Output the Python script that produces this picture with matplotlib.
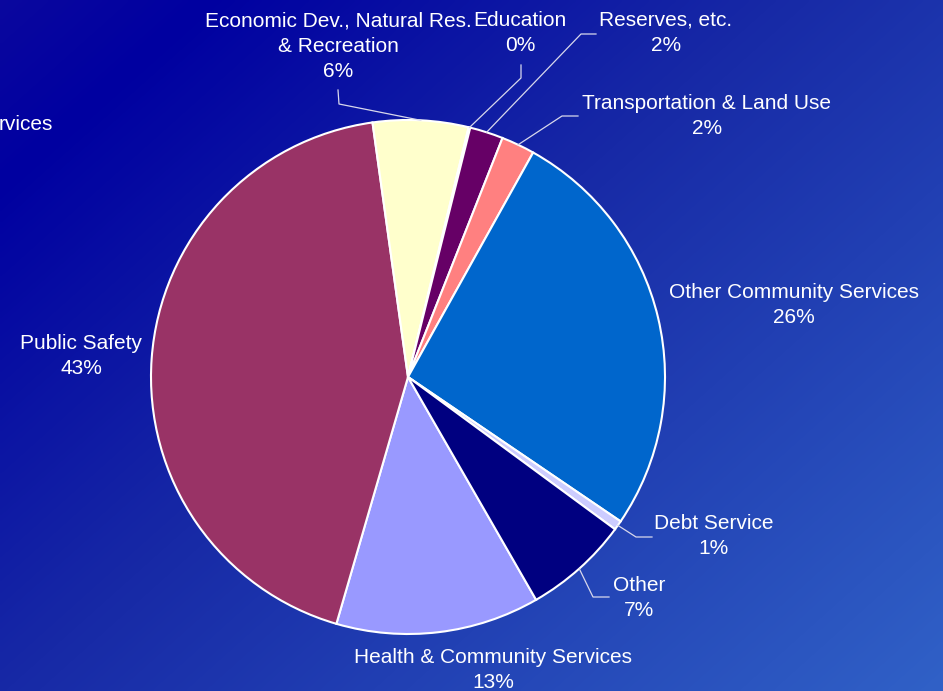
import numpy as np
import matplotlib
matplotlib.use("Agg")
import matplotlib.pyplot as plt
from matplotlib.colors import LinearSegmentedColormap

plt.rcParams['font.family'] = ['Liberation Sans', 'DejaVu Sans']

# Budget shares (percent), clockwise starting at Health
categories = ['Health & Community Services', 'Public Safety',
              'Economic Dev., Natural Res.\n& Recreation', 'Education',
              'Reserves, etc.', 'Transportation & Land Use',
              'Other Community Services', 'Debt Service', 'Other']
shares = [12.8, 43.3, 6.0, 0.1, 2.1, 2.1, 26.4, 0.6, 6.6]
colors = ['#9999FF', '#993366', '#FFFFCC', '#CCFFFF', '#660066',
          '#FF8080', '#0066CC', '#CCCCFF', '#000080']

W, H = 943, 691
cx, cy, R = 408, 377, 257   # pie centre and radius in pixels

# label centres in pixels, and leader elbow points (None = no leader)
label_pos = [(493, 670), (81, 356), (338, 46), (520, 33), (666, 33),
             (707, 116), (794, 305), (714, 536), (639, 598)]
leader_elbow = [None, None, [(338, 90), (339, 104)], [(521, 65), (521, 78)],
                [(596, 34), (581, 34)], [(578, 116), (562, 116)], None,
                [(652, 537), (636, 537)], [(609, 597), (593, 597)]]


def px(x, y):
    # pixel coords -> data coords of the pie axes
    return (x - cx) / R, (cy - y) / R


fig = plt.figure(figsize=(W / 100, H / 100), dpi=100)

# diagonal gradient background
bg = fig.add_axes([0, 0, 1, 1], zorder=0)
xx, yy = np.meshgrid(np.linspace(0, 1, 300), np.linspace(0, 1, 220))
t = (xx * 0.55 + yy * 0.45)
cmap = LinearSegmentedColormap.from_list(
    'bg', [(0.0, (0.04, 0.03, 0.62)), (0.12, (0.0, 0.0, 0.63)),
           (0.45, (0.09, 0.16, 0.65)), (1.0, (0.19, 0.38, 0.78))])
bg.imshow(t, cmap=cmap, aspect='auto', extent=[0, 1, 1, 0], interpolation='bilinear')
bg.set_axis_off()

ax = fig.add_axes([0, 0, 1, 1], zorder=1)
ax.patch.set_visible(False)
wedges, _ = ax.pie(shares, colors=colors, startangle=-60.1, counterclock=False,
                   radius=1.0, wedgeprops=dict(edgecolor='white', linewidth=1.5))
ax.set_xlim(-cx / R, (W - cx) / R)
ax.set_ylim(-(H - cy) / R, cy / R)
ax.set_aspect('auto')
ax.set_axis_off()

for w, name, val, pos, elbow in zip(wedges, categories, shares, label_pos, leader_elbow):
    tx, ty = px(*pos)
    ax.text(tx, ty, f'{name}\n{val:.0f}%', ha='center', va='center', color='white',
            fontsize=15, linespacing=1.42)
    if elbow is not None:
        mid = np.deg2rad((w.theta1 + w.theta2) / 2)
        pts = [px(*p) for p in elbow] + [(np.cos(mid), np.sin(mid))]
        ax.plot([p[0] for p in pts], [p[1] for p in pts], color='#D8D8EC', lw=0.9)

# tail of a label from the neighbouring chart, cut by the left edge
ax.text(*px(53, 125), 'rvices', ha='right', va='center', color='white', fontsize=15)

fig.savefig('out.png', dpi=100)
